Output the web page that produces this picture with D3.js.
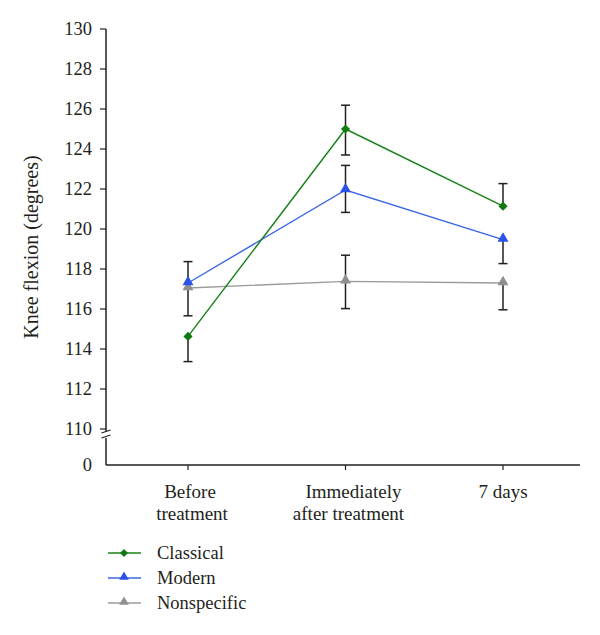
<!DOCTYPE html>
<html><head><meta charset="utf-8">
<script src="https://cdn.jsdelivr.net/npm/d3@7"></script>
<style>
body{margin:0;background:#fff;}
</style></head>
<body><svg id="c" width="600" height="635" font-family="'Liberation Serif', 'Times New Roman', serif"></svg>
<script>
const categories = ["Before treatment", "Immediately after treatment", "7 days"];
const categoryLines = [["Before", "treatment"], ["Immediately", "after treatment"], ["7 days"]];
const seriesNames = ["Classical", "Modern", "Nonspecific"];
const classical = [114.63, 125.0, 121.14];
const modern = [117.3, 121.95, 119.47];
const nonspecific = [117.05, 117.38, 117.3];
const classicalHi = [null, 126.19, 122.27];
const classicalLo = [113.37, 123.7, null];
const modernHi = [118.37, 123.18, null];
const modernLo = [null, 120.83, 118.27];
const nonspecificHi = [null, 118.69, null];
const nonspecificLo = [115.66, 116.02, 115.96];
const yTicks = [110, 112, 114, 116, 118, 120, 122, 124, 126, 128, 130];

const colors = ["#17821a", "#3b66e6", "#9b9b9b"];
const markerFill = ["#0f7a10", "#2a52e8", "#8f8f8f"];
const series = [
  {name: seriesNames[0], v: classical, hi: classicalHi, lo: classicalLo, sym: d3.symbolSquare},
  {name: seriesNames[1], v: modern, hi: modernHi, lo: modernLo, sym: d3.symbolTriangle},
  {name: seriesNames[2], v: nonspecific, hi: nonspecificHi, lo: nonspecificLo, sym: d3.symbolTriangle}
];

const svg = d3.select("#c");
const axisX0 = 106, axisX1 = 580, axisY = 465;
const x = d3.scalePoint().domain(categories).range([188, 503]);
const y = d3.scaleLinear().domain([110, 130]).range([429, 29]);
const ink = "#231f20";
const txt = (sel) => sel.attr("fill", ink);

// y axis
svg.append("line").attr("x1", axisX0).attr("x2", axisX0).attr("y1", y(130)).attr("y2", 432).attr("stroke", ink).attr("stroke-width", 1.5);
svg.append("line").attr("x1", axisX0).attr("x2", axisX0).attr("y1", 438).attr("y2", axisY).attr("stroke", ink).attr("stroke-width", 1.5);
[0, 5].forEach(o => {
  svg.append("line").attr("x1", axisX0 - 4.5).attr("x2", axisX0 + 4.5).attr("y1", 433 + o).attr("y2", 430 + o).attr("stroke", ink).attr("stroke-width", 1.2);
});
yTicks.forEach(t => {
  svg.append("line").attr("x1", axisX0 - 6).attr("x2", axisX0).attr("y1", y(t)).attr("y2", y(t)).attr("stroke", ink).attr("stroke-width", 1.2);
  txt(svg.append("text")).attr("x", 92).attr("y", y(t)).attr("dy", "0.35em").attr("text-anchor", "end").attr("font-size", 18.5).text(t);
});
txt(svg.append("text")).attr("x", 92).attr("y", axisY).attr("dy", "0.35em").attr("text-anchor", "end").attr("font-size", 18.5).text("0");

// x axis
svg.append("line").attr("x1", axisX0).attr("x2", axisX1).attr("y1", axisY).attr("y2", axisY).attr("stroke", ink).attr("stroke-width", 1.5);
const lineOffsets = [[2, 4], [8, 3], [0]];
categories.forEach((c, i) => {
  const cx = x(c);
  svg.append("line").attr("x1", cx).attr("x2", cx).attr("y1", axisY).attr("y2", axisY + 5).attr("stroke", ink).attr("stroke-width", 1.2);
  const t = txt(svg.append("text")).attr("y", 498).attr("text-anchor", "middle").attr("font-size", 19);
  categoryLines[i].forEach((ln, j) => t.append("tspan").attr("x", cx + lineOffsets[i][j]).attr("dy", j === 0 ? 0 : 22).text(ln));
});

// y label
txt(svg.append("text")).attr("transform", "translate(38,247) rotate(-90)").attr("text-anchor", "middle").attr("font-size", 20).text("Knee flexion (degrees)");

// error bars
const cap = 4.5;
series.forEach(s => {
  categories.forEach((c, i) => {
    const cx = x(c);
    const top = s.hi[i] != null ? s.hi[i] : s.v[i];
    const bot = s.lo[i] != null ? s.lo[i] : s.v[i];
    svg.append("line").attr("x1", cx).attr("x2", cx).attr("y1", y(top)).attr("y2", y(bot)).attr("stroke", ink).attr("stroke-width", 1.5);
    if (s.hi[i] != null) svg.append("line").attr("x1", cx - cap).attr("x2", cx + cap).attr("y1", y(top)).attr("y2", y(top)).attr("stroke", ink).attr("stroke-width", 1.5);
    if (s.lo[i] != null) svg.append("line").attr("x1", cx - cap).attr("x2", cx + cap).attr("y1", y(bot)).attr("y2", y(bot)).attr("stroke", ink).attr("stroke-width", 1.5);
  });
});

// lines
const line = d3.line().x((d, i) => x(categories[i])).y(d => y(d));
[2, 1, 0].forEach(k => {
  const s = series[k];
  svg.append("path").datum(s.v).attr("d", line).attr("fill", "none").attr("stroke", colors[k]).attr("stroke-width", 1.4);
});
const markerT = (k, px, py) => k === 0 ? `translate(${px},${py}) rotate(45)` : `translate(${px},${py - 1})`;
[2, 1, 0].forEach(k => {
  const s = series[k];
  const sz = k === 0 ? 42 : 52;
  s.v.forEach((v, i) => {
    svg.append("path").attr("d", d3.symbol().type(s.sym).size(sz)()).attr("transform", markerT(k, x(categories[i]), y(v))).attr("fill", markerFill[k]);
  });
});

// legend
const legY = [553, 578, 603];
series.forEach((s, k) => {
  svg.append("line").attr("x1", 108).attr("x2", 141).attr("y1", legY[k]).attr("y2", legY[k]).attr("stroke", colors[k]).attr("stroke-width", 1.4);
  svg.append("path").attr("d", d3.symbol().type(s.sym).size(k === 0 ? 32 : 40)()).attr("transform", markerT(k, 124, legY[k])).attr("fill", markerFill[k]);
  txt(svg.append("text")).attr("x", 157).attr("y", legY[k]).attr("dy", "0.35em").attr("font-size", 18.5).text(s.name);
});
</script></body></html>
